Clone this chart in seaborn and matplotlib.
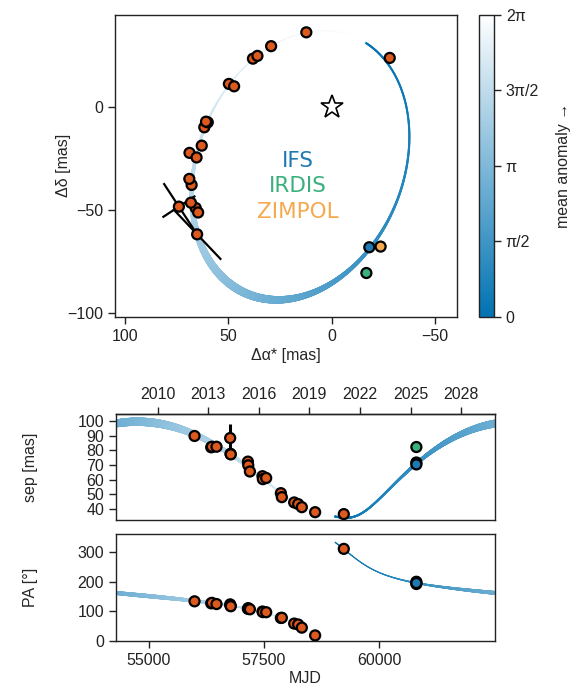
import numpy as np
import pandas as pd
import matplotlib
matplotlib.use("Agg")
import matplotlib.pyplot as plt
import seaborn as sns
from matplotlib.collections import LineCollection
from matplotlib.colors import LinearSegmentedColormap, Normalize
from matplotlib.cm import ScalarMappable

# relative astrometry of the companion
epoch_mjd = [55996, 56357, 56372, 56472, 56768, 56775, 56781, 57152, 57160, 57195,
             57468, 57476, 57548, 57866, 57887, 58154, 58240, 58320, 58608, 59229,
             60801, 60801, 60801]
sep_mas = [89.7, 82.0, 82.4, 82.4, 88.3, 77.6, 77.2, 72.3, 69.8, 65.6,
           62.4, 60.4, 61.2, 50.9, 48.2, 44.6, 43.5, 41.4, 38.0, 36.7,
           82.2, 71.7, 70.4]
pa_deg = [133.5, 126.7, 128.4, 124.3, 123.2, 119.2, 116.9, 108.0, 110.6, 106.7,
          99.2, 97.2, 96.8, 77.5, 78.2, 58.6, 55.6, 45.0, 18.8, 310.0,
          191.8, 199.3, 195.0]
sep_err = [2.0, 1.0, 1.0, 1.0, 9.5, 1.0, 1.0, 1.0, 1.0, 1.0,
           1.0, 1.0, 1.0, 1.0, 1.0, 1.0, 1.0, 1.0, 1.0, 1.0,
           1.0, 1.0, 1.0]
pa_err = [10.8, 0.8, 0.8, 0.8, 8.8, 0.8, 0.8, 0.8, 0.8, 0.8,
          0.8, 0.8, 0.8, 0.8, 0.8, 0.8, 0.8, 0.8, 0.8, 0.8,
          0.8, 0.8, 0.8]
instrument = ["archival"] * 20 + ["IRDIS", "ZIMPOL", "IFS"]

# Keplerian orbit (Campbell elements)
period_days = 8218.0
t_peri_mjd = 59042.0
ecc = 0.478
sma_mas = 67.63
inc_deg = 146.50
aop_deg = 13.06
pan_deg = 342.98

year_ticks = list(range(2010, 2029, 3))
mjd_ticks = [55000, 57500, 60000]
mjd_range = (54295, 62504)


def ecc_anom(M, e):
    M = np.mod(M, 2 * np.pi)
    E = np.where(e > 0.8, np.pi + 0 * M, M)
    for _ in range(40):
        E = E - (E - e * np.sin(E) - M) / (1 - e * np.cos(E))
    return E


def radec(t):
    """Offsets (RA, Dec) in mas and mean anomaly at epochs t (MJD)."""
    M = 2 * np.pi * (np.asarray(t, float) - t_peri_mjd) / period_days
    E = ecc_anom(M, ecc)
    X = np.cos(E) - ecc
    Y = np.sqrt(1 - ecc ** 2) * np.sin(E)
    w, W, i = np.radians(aop_deg), np.radians(pan_deg), np.radians(inc_deg)
    A = sma_mas * (np.cos(w) * np.cos(W) - np.sin(w) * np.sin(W) * np.cos(i))
    B = sma_mas * (np.cos(w) * np.sin(W) + np.sin(w) * np.cos(W) * np.cos(i))
    F = sma_mas * (-np.sin(w) * np.cos(W) - np.cos(w) * np.sin(W) * np.cos(i))
    G = sma_mas * (-np.sin(w) * np.sin(W) + np.cos(w) * np.cos(W) * np.cos(i))
    return B * X + G * Y, A * X + F * Y, M


obs = pd.DataFrame(dict(mjd=epoch_mjd, sep=sep_mas, pa=pa_deg, sep_err=sep_err,
                        pa_err=pa_err, instrument=instrument))
obs["ra"] = obs.sep * np.sin(np.radians(obs.pa))
obs["dec"] = obs.sep * np.cos(np.radians(obs.pa))

sns.set_theme(style="ticks")
plt.rcParams.update({
    "font.family": ["Liberation Sans", "DejaVu Sans"],
    "font.size": 11.5,
    "axes.linewidth": 1.0,
    "axes.edgecolor": "#222222",
    "xtick.major.size": 5, "ytick.major.size": 5,
    "xtick.major.width": 1.0, "ytick.major.width": 1.0,
    "xtick.labelsize": 11.5, "ytick.labelsize": 11.5,
    "axes.labelsize": 11.5,
    "xtick.color": "#222222", "ytick.color": "#222222",
})

cmap = LinearSegmentedColormap.from_list("mean_anomaly", ["#0072B2", "#ffffff"])
norm = Normalize(0, 2 * np.pi)
palette = {"archival": "#DD5A1E", "IFS": "#1f7ab4", "IRDIS": "#3bb07d", "ZIMPOL": "#f5a94f"}
draw_order = ["archival", "IRDIS", "ZIMPOL", "IFS"]
obs["order"] = obs.instrument.map({k: n for n, k in enumerate(draw_order)})
obs = obs.sort_values("order", kind="stable")


def band_width(M, scale=1.0):
    # the track is drawn wider where the orbit is less constrained
    M = np.mod(M, 2 * np.pi)
    return scale * (0.5 + 1.0 * (1 - M / (2 * np.pi)) + 5.0 * np.sin(M / 2) ** 3)


def track(ax, x, y, M, scale=1.0, wrap=None):
    pts = np.column_stack([x, y])
    segs = np.stack([pts[:-1], pts[1:]], axis=1)
    Mm = (M[:-1] + M[1:]) / 2
    jump = np.abs(np.diff(M)) > np.pi
    Mm[jump] = M[1:][jump]
    keep = np.ones(len(segs), bool) if wrap is None else np.abs(np.diff(y)) < wrap
    ax.add_collection(LineCollection(segs[keep], colors=cmap(norm(Mm[keep])),
                                     linewidths=band_width(Mm[keep], scale),
                                     capstyle="round", zorder=1))


fig = plt.figure(figsize=(5.74, 6.93), dpi=100)
ax = fig.add_axes([115 / 574, 1 - 316.7 / 693, 342.3 / 574, 302 / 693])
cax = fig.add_axes([479 / 574, 1 - 316.7 / 693, 15 / 574, 302 / 693])
ax_sep = fig.add_axes([116 / 574, 1 - 520 / 693, 379 / 574, 106 / 693])
ax_pa = fig.add_axes([116 / 574, 1 - 641 / 693, 379 / 574, 107 / 693])

# sky-plane orbit over one full period
t_orb = t_peri_mjd + np.linspace(0, period_days, 1200)
x, y, M = radec(t_orb)
track(ax, x, y, M)

# error bars along separation and position angle
err_segs = []
for r in obs.itertuples():
    th = np.radians(r.pa)
    u = np.array([np.sin(th), np.cos(th)])
    v = np.array([np.cos(th), -np.sin(th)])
    c = np.array([r.ra, r.dec])
    err_segs.append([c - r.sep_err * u, c + r.sep_err * u])
    h = r.sep * np.radians(r.pa_err)
    err_segs.append([c - h * v, c + h * v])
ax.add_collection(LineCollection(err_segs, colors="black", linewidths=1.6, zorder=2))

sns.scatterplot(data=obs, x="ra", y="dec", hue="instrument", palette=palette, s=52,
                edgecolor="black", linewidth=1.6, legend=False, ax=ax, zorder=3)
ax.plot([0], [0], marker="*", ms=17, mfc="white", mec="black", mew=1.2, zorder=4)

ax.set_xlim(104.8, -60.8)
ax.set_ylim(-101.6, 44.5)
ax.set_xticks([100, 50, 0, -50])
ax.set_yticks([0, -50, -100])
ax.set_xlabel("Δα* [mas]")
ax.set_ylabel("Δδ [mas]")
ax.xaxis.set_label_coords(0.5, -0.105)
ax.yaxis.set_label_coords(-0.13, 0.5)

for lbl, yy in [("IFS", 0.517), ("IRDIS", 0.432), ("ZIMPOL", 0.346)]:
    ax.text(0.535, yy, lbl, transform=ax.transAxes, ha="center", va="center",
            fontsize=15.5, family="DejaVu Sans", color=palette[lbl])

cb = fig.colorbar(ScalarMappable(norm=norm, cmap=cmap), cax=cax)
cb.set_ticks([0, np.pi / 2, np.pi, 3 * np.pi / 2, 2 * np.pi])
cb.set_ticklabels(["0", "π/2", "π", "3π/2", "2π"])
cb.outline.set_linewidth(1.0)
cb.set_label("mean anomaly →", labelpad=12)

# separation and position angle against time
t_line = np.linspace(mjd_range[0], mjd_range[1], 1600)
x, y, M = radec(t_line)
M = np.mod(M, 2 * np.pi)
track(ax_sep, t_line, np.hypot(x, y), M)
track(ax_pa, t_line, np.degrees(np.arctan2(x, y)) % 360, M, scale=0.5, wrap=180)

ax_sep.errorbar(obs.mjd, obs.sep, yerr=obs.sep_err, fmt="none", ecolor="black",
                elinewidth=2.2, zorder=2)
ax_pa.errorbar(obs.mjd, obs.pa, yerr=obs.pa_err, fmt="none", ecolor="black",
               elinewidth=2.2, zorder=2)
sns.scatterplot(data=obs, x="mjd", y="sep", hue="instrument", palette=palette, s=52,
                edgecolor="black", linewidth=1.6, legend=False, ax=ax_sep, zorder=3)
sns.scatterplot(data=obs, x="mjd", y="pa", hue="instrument", palette=palette, s=52,
                edgecolor="black", linewidth=1.6, legend=False, ax=ax_pa, zorder=3)

for a_ in (ax_sep, ax_pa):
    a_.set_xlim(*mjd_range)
ax_sep.set_ylim(32.7, 104.6)
ax_sep.set_yticks(range(40, 101, 10))
ax_sep.tick_params(axis="x", bottom=False, labelbottom=False)
ax_sep.set_xlabel("")
ax_sep.set_ylabel("sep [mas]")
ax_pa.set_ylim(0, 360)
ax_pa.set_yticks([0, 100, 200, 300])
ax_pa.set_xticks(mjd_ticks)
ax_pa.set_xlabel("MJD")
ax_pa.set_ylabel("PA [°]")
ax_sep.yaxis.set_label_coords(-0.205, 0.5)
ax_pa.yaxis.set_label_coords(-0.205, 0.5)
ax_pa.xaxis.set_label_coords(0.5, -0.28)

yr = ax_sep.secondary_xaxis("top", functions=(lambda m: 2000 + (m - 51544.5) / 365.25,
                                               lambda y_: 51544.5 + (y_ - 2000) * 365.25))
yr.set_xticks(year_ticks)

fig.savefig("out.png", dpi=100)
